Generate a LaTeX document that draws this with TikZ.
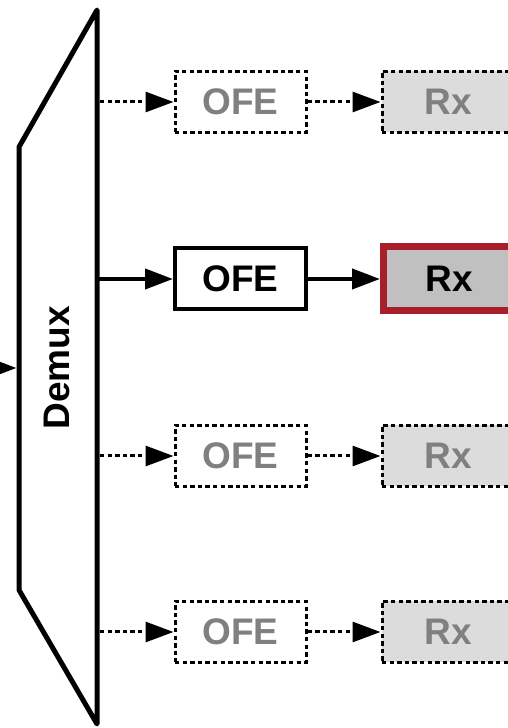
\documentclass[tikz,border=0pt]{standalone}
\usepackage{fontspec}
\setmainfont{Liberation Sans}
\usetikzlibrary{arrows.meta,positioning}
\definecolor{rxred}{RGB}{168,30,42}
\definecolor{rxfill}{RGB}{192,192,192}
\definecolor{rxidle}{RGB}{220,220,220}
\definecolor{idletext}{RGB}{128,128,128}

\tikzset{
	blk/.style={minimum width=65.5pt, minimum height=30.5pt, inner sep=0pt,
		font=\fontsize{18.5}{20}\selectfont\bfseries},
	idle/.style={blk, draw, line width=1.5pt, dash pattern=on 2.2pt off 1.6pt, text=idletext},
	active/.style={blk, draw, line width=2pt},
	sig/.style={line width=2pt, -{Triangle[length=14pt,width=10pt]}},
	idlesig/.style={sig, line width=1.5pt, dash pattern=on 2.2pt off 1.6pt},
}

\begin{document}
\begin{tikzpicture}[x=0.5pt, y=0.5pt, node distance=36.5pt]
		\useasboundingbox (0,0) rectangle (508,728);

		% demultiplexer body
		\draw[line width=2.5pt, line join=round] (97,718) -- (19,581) -- (19,138) -- (97,4) -- cycle;
		\node[font=\fontsize{18.5}{20}\selectfont\bfseries, rotate=90] (demux) at (57,360) {Demux};
		\coordinate (in) at (-40,360);
		\coordinate (demuxin) at (16.5,360);
		\draw[sig] (in) -- (demuxin);

		% outputs of the demux
		\coordinate (d1) at (100,626);
		\coordinate (d2) at (98,449);
		\coordinate (d3) at (100,272);
		\coordinate (d4) at (100,96);

		% selected channel
		\node[active] (ofe2) at (240.5,449) {OFE};
		\node[blk, draw=rxred, line width=3.5pt, fill=rxfill, minimum width=66pt, minimum height=32pt, right=36pt of ofe2] (rx2) {Rx};
		\draw[sig] (d2) -- (ofe2);
		\draw[sig] (ofe2) -- (rx2);

		% idle channels
		\foreach \i/\y in {1/626, 3/272, 4/96} {
			\node[idle] (ofe\i) at (240.5,\y) {OFE};
			\node[idle, fill=rxidle, minimum width=66pt, right=of ofe\i] (rx\i) {Rx};
			\draw[idlesig] (d\i) -- (ofe\i);
			\draw[idlesig] (ofe\i) -- (rx\i);
		}
	\end{tikzpicture}
\end{document}
